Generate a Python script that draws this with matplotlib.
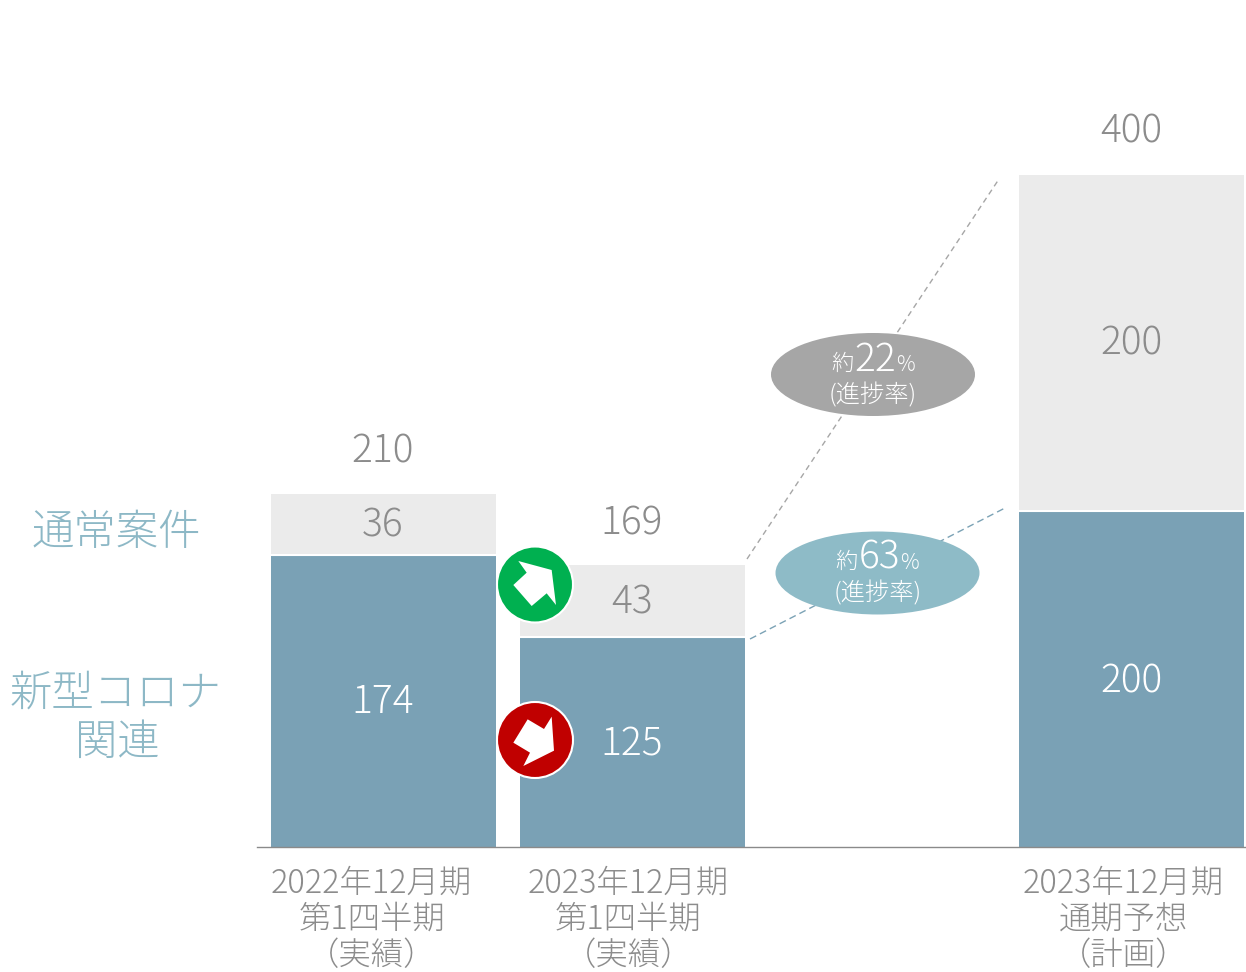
import matplotlib
matplotlib.use("Agg")
import matplotlib.pyplot as plt
from matplotlib.patches import Ellipse, Circle, Polygon

FONT = ['Noto Sans CJK JP', 'DejaVu Sans']
plt.rcParams['font.family'] = FONT

categories = ["2022年12月期\n第1四半期\n（実績）", "2023年12月期\n第1四半期\n（実績）", "2023年12月期\n通期予想\n（計画）"]
corona = [174, 125, 200]
normal = [36, 43, 200]
totals = [210, 169, 400]
series_names = ["通常案件", "新型コロナ\n関連"]

W, H = 1246, 972
BLUE, LIGHT, GRAY = "#7AA1B5", "#EBEBEB", "#8C8C8C"
fig = plt.figure(figsize=(W/100, H/100), dpi=100, facecolor="white")

# data axes: value axis is scaled so that 0 sits at y=847 and 400 at y=175
ax = fig.add_axes([0, 0, 1, 1])
ax.set_xlim(0, W)
ax.set_ylim(-(H-847)/1.68, 847/1.68)
ax.axis("off")
centers = [383.5, 632.5, 1131.5]
ax.bar(centers, corona, width=225, color=BLUE, edgecolor="none", zorder=2)
ax.bar(centers, normal, bottom=corona, width=225, color=LIGHT, edgecolor="none", zorder=2)
for c, a, b in zip(centers, corona, normal):
    ax.plot([c-112.5, c+112.5], [a, a], color="white", lw=1.5, zorder=3)
ax.plot([257, 1246], [0, 0], color="#8A8A8A", lw=1, zorder=4)

FS = 28
lab_y_corona = [702, 745, 682]
lab_y_normal = [526, 603, 344]
lab_y_total = [452, 524, 132]
lab_x = [383, 632, 1131]

# overlay axes in pixel units for callouts and annotations
ov = fig.add_axes([0, 0, 1, 1], facecolor="none")
ov.set_xlim(0, W)
ov.set_ylim(H, 0)
ov.axis("off")

for x, a, b, t, ya, yb, yt in zip(lab_x, corona, normal, totals, lab_y_corona, lab_y_normal, lab_y_total):
    ov.text(x, ya, str(a), color="white", fontsize=FS, ha="center", va="center", weight="light")
    ov.text(x, yb, str(b), color=GRAY, fontsize=FS, ha="center", va="center", weight="light")
    ov.text(x, yt, str(t), color=GRAY, fontsize=FS, ha="center", va="center", weight="light")

for x, s in zip([371.5, 628.5, 1123.5], categories):
    for y, line in zip([883, 919, 955.5], s.split("\n")):
        ov.text(x, y, line, color=GRAY, fontsize=23.3, ha="center", va="center", weight="light")

ov.text(116.5, 533.5, series_names[0], color="#8DB8C6", fontsize=30.5, ha="center", va="center", weight="light")
n1, n2 = series_names[1].split("\n")
ov.text(115, 693.5, n1, color="#8DB8C6", fontsize=30.5, ha="center", va="center", weight="light")
ov.text(117, 743.5, n2, color="#8DB8C6", fontsize=30.5, ha="center", va="center", weight="light")

# dashed connectors
ov.plot([747, 999], [559, 179], color="#A6A6A6", lw=1, ls=(0, (4, 3)), zorder=3)
ov.plot([750, 1005], [639, 508], color="#7BA2B5", lw=1, ls=(0, (5, 3)), zorder=3)

# callout ellipses
ov.add_patch(Ellipse((873, 374.5), 204, 83, color="#A6A6A6", lw=0, zorder=5))
ov.add_patch(Ellipse((877.5, 573), 204, 83, color="#8EBBC7", lw=0, zorder=5))
for cx, cy, pct in [(873, 374, "22"), (877.5, 572, "63")]:
    ov.text(cx-31, cy-10, "約", color="white", fontsize=16, ha="center", va="center", weight="light", zorder=6)
    ov.text(cx+2, cy-14, pct, color="white", fontsize=28, ha="center", va="center", weight="light", zorder=6)
    ov.text(cx+32, cy-9, "%", color="white", fontsize=15, ha="center", va="center", weight="light", zorder=6)
    ov.text(cx, cy+22, "(進捗率)", color="white", fontsize=17.5, ha="center", va="center", weight="light", zorder=6)

# change badges
ov.add_patch(Circle((535, 584.5), 38, facecolor="#00B050", edgecolor="white", lw=1.5, zorder=7))
ov.add_patch(Circle((535, 740), 38, facecolor="#C00000", edgecolor="white", lw=1.5, zorder=7))
up = [(115,93),(215,120),(228,225),(200,190),(155,228),(100,165),(140,128)]
dn = [(215,560),(222,662),(130,708),(150,668),(100,638),(143,568),(192,597)]
for pts in (up, dn):
    ov.add_patch(Polygon([(480+x/3, 530+y/3) for x, y in pts], closed=True, facecolor="white", edgecolor="none", zorder=8))

fig.savefig("out.png", dpi=100, facecolor="white")
